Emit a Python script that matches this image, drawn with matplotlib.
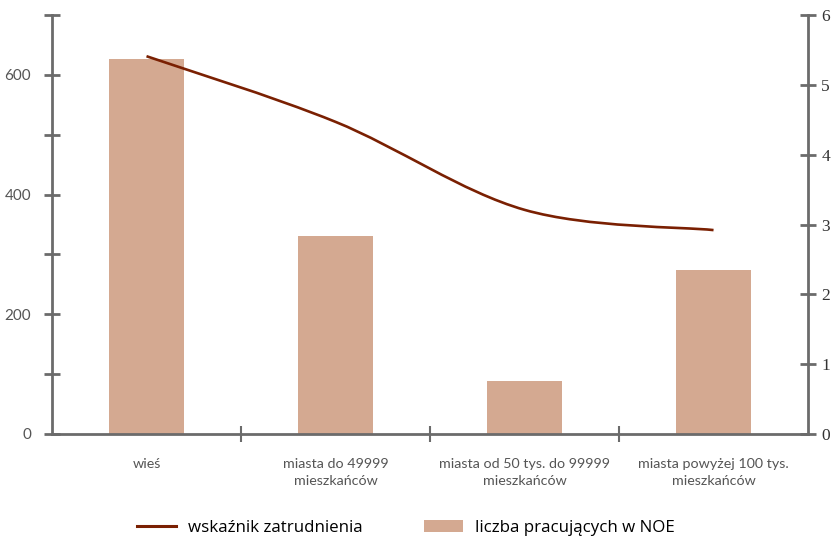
import numpy as np
import matplotlib
matplotlib.use('Agg')
import matplotlib.pyplot as plt
from matplotlib.path import Path
from matplotlib.patches import PathPatch, Patch
from matplotlib.lines import Line2D

# ============================================================================
# DATA
# ============================================================================

categories = ['wieś', 'miasta do 49999\nmieszkańców',
              'miasta od 50 tys. do 99999\nmieszkańców',
              'miasta powyżej 100 tys.\nmieszkańców']
workers = [627, 331, 88, 274]               # liczba pracujących w NOE (left axis)
employment_rate = [5.41, 4.47, 3.21, 2.92]  # wskaźnik zatrudnienia (right axis)

left_ticks = [0, 100, 200, 300, 400, 500, 600, 700]
left_labels = ['0', '', '200', '', '400', '', '600', '']
right_ticks = [0, 1, 2, 3, 4, 5, 6]

BAR_COLOR = '#D4A991'
LINE_COLOR = '#7A2002'
AXIS_COLOR = '#6b6b6b'
LABEL_COLOR = '#555555'
NARROW = ['Lato', 'DejaVu Sans']


def smooth_path(xs, ys, tension=6.0):
    """Catmull-Rom style cubic Bezier path through the points (Excel smoothed line)."""
    pts = np.column_stack([xs, ys]).astype(float)
    verts = [pts[0]]
    codes = [Path.MOVETO]
    n = len(pts)
    for i in range(n - 1):
        p0 = pts[i - 1] if i > 0 else pts[i]
        p1 = pts[i]
        p2 = pts[i + 1]
        p3 = pts[i + 2] if i + 2 < n else pts[i + 1]
        c1 = p1 + (p2 - p0) / tension
        c2 = p2 - (p3 - p1) / tension
        verts += [c1, c2, p2]
        codes += [Path.CURVE4] * 3
    return Path(verts, codes)


fig = plt.figure(figsize=(8.32, 5.40), dpi=100, facecolor='white')
ax = fig.add_axes([0.0625, 0.1963, 0.9087, 0.7759])
ax2 = ax.twinx()

x = np.arange(len(categories))
ax.bar(x, workers, width=0.40, color=BAR_COLOR, zorder=2)

ax.set_xlim(-0.5, len(categories) - 0.5)
ax.set_ylim(0, 700)
ax2.set_ylim(0, 6)

# smoothed line on secondary axis
line_patch = PathPatch(smooth_path(x, employment_rate), facecolor='none',
                       edgecolor=LINE_COLOR, linewidth=1.9, capstyle='butt',
                       zorder=3)
ax2.add_patch(line_patch)

# spines
ax.spines['top'].set_visible(False)
ax2.spines['top'].set_visible(False)
ax.spines['right'].set_visible(False)
ax2.spines['left'].set_visible(False)
ax2.spines['bottom'].set_visible(False)
for a, side in ((ax, 'left'), (ax, 'bottom'), (ax2, 'right')):
    a.spines[side].set_color(AXIS_COLOR)
    a.spines[side].set_linewidth(2.0)

# left axis ticks
ax.set_yticks(left_ticks)
ax.set_yticklabels(left_labels, family=NARROW, fontsize=11, color=LABEL_COLOR)
ax.tick_params(axis='y', direction='inout', length=12, width=2.0,
               color=AXIS_COLOR, pad=9)

# right axis ticks
ax2.set_yticks(right_ticks)
ax2.set_yticklabels([str(t) for t in right_ticks],
                    family=['Liberation Serif', 'DejaVu Serif'],
                    fontsize=12.5, color='#333333')
ax2.tick_params(axis='y', direction='inout', length=11, width=2.0,
                color=AXIS_COLOR, pad=4)

# category boundaries as x ticks, labels as minor ticks
ax.set_xticks([0.5, 1.5, 2.5])
ax.set_xticklabels([])
ax.tick_params(axis='x', which='major', direction='inout', length=12,
               width=1.5, color=AXIS_COLOR)
ax.set_xticks(x, minor=True)
ax.set_xticklabels(categories, minor=True, family=NARROW, fontsize=10.3,
                   color=LABEL_COLOR, linespacing=1.55)
ax.tick_params(axis='x', which='minor', length=0, pad=17)

# legend
handles = [Line2D([0], [0], color=LINE_COLOR, linewidth=2.2),
           Patch(facecolor=BAR_COLOR, edgecolor='none')]
fig.legend(handles, ['wskaźnik zatrudnienia', 'liczba pracujących w NOE'],
           loc='center', bbox_to_anchor=(0.488, 0.022), ncol=2, frameon=False,
           prop={'family': ['Open Sans', 'DejaVu Sans'], 'size': 12.2},
           handlelength=2.3, columnspacing=3.6, handletextpad=0.7)

fig.savefig('out.png', dpi=100, facecolor='white')
